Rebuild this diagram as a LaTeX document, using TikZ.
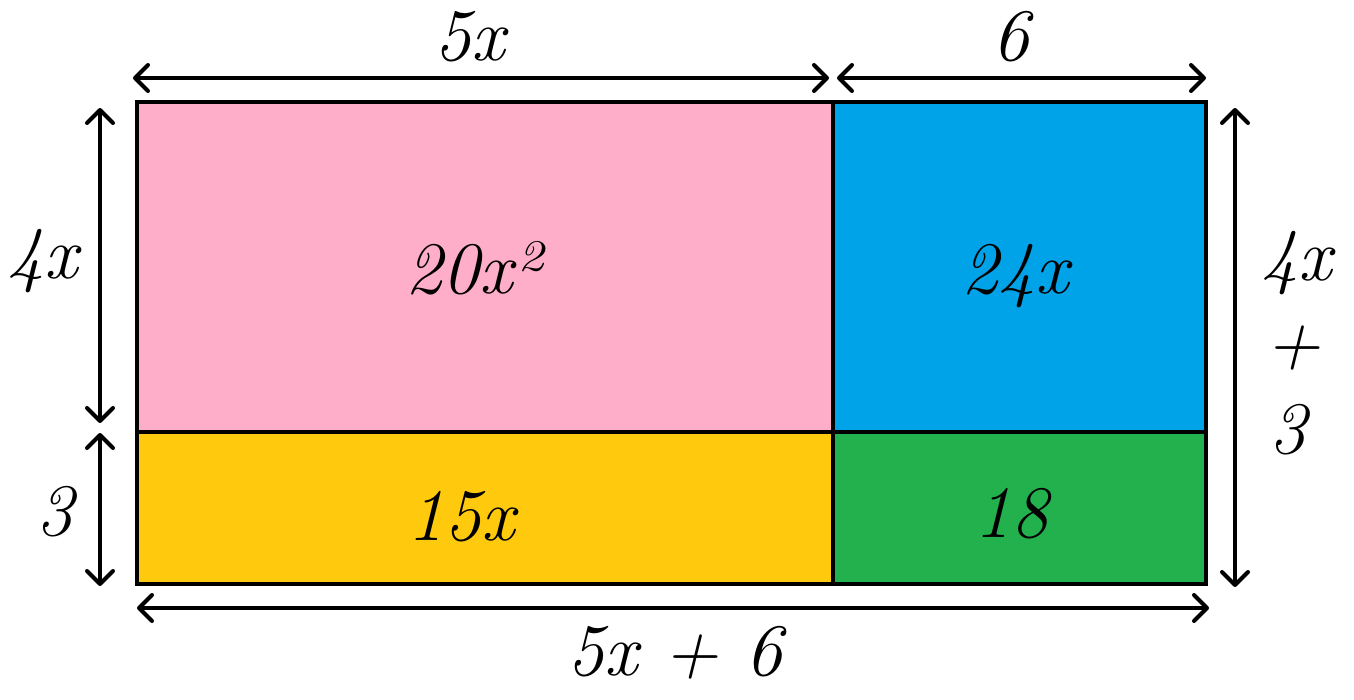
\documentclass[tikz,border=0pt]{standalone}
\usepackage{fontspec}
\usetikzlibrary{arrows.meta}
\definecolor{cpink}{HTML}{FFAEC9}
\definecolor{cblue}{HTML}{00A2E8}
\definecolor{cyellow}{HTML}{FFC90E}
\definecolor{cgreen}{HTML}{22B14C}
\tikzset{
  lbl/.style={anchor=base,inner sep=0pt,font=\fontsize{74}{88}\selectfont\itshape},
  cell/.style={draw=black,line width=4pt},
  dim/.style={line width=4pt,{Straight Barb[length=13pt,width=26pt,line width=4pt,round]}-{Straight Barb[length=13pt,width=26pt,line width=4pt,round]}}
}
\begin{document}
\begin{tikzpicture}[x=1pt,y=-1pt]
\useasboundingbox (0,0) rectangle (1354,699);
% corners
\coordinate (tl) at (137,102);
\coordinate (tm) at (833,102);
\coordinate (tr) at (1206,102);
\coordinate (ml) at (137,432);
\coordinate (mm) at (833,432);
\coordinate (mr) at (1206,432);
\coordinate (bl) at (137,584);
\coordinate (bm) at (833,584);
\coordinate (br) at (1206,584);
% cells
\fill[cpink] (tl) rectangle (mm);
\fill[cblue] (tm) rectangle (mr);
\fill[cyellow] (ml) rectangle (bm);
\fill[cgreen] (mm) rectangle (br);
\draw[cell] (tl) rectangle (br);
\draw[cell] (tm) -- (bm);
\draw[cell] (ml) -- (mr);
% dimension arrow ends
\coordinate (a1) at (133,78);
\coordinate (a2) at (829,78);
\coordinate (a3) at (837,78);
\coordinate (a4) at (1206,78);
\coordinate (l1) at (100,108);
\coordinate (l2) at (100,423);
\coordinate (l3) at (100,433);
\coordinate (l4) at (100,586);
\coordinate (r1) at (1235,108);
\coordinate (r2) at (1235,587);
\coordinate (b1) at (137,608);
\coordinate (b2) at (1209,608);
\draw[dim] (a1) -- (a2);
\draw[dim] (a3) -- (a4);
\draw[dim] (l1) -- (l2);
\draw[dim] (l3) -- (l4);
\draw[dim] (r1) -- (r2);
\draw[dim] (b1) -- (b2);
% labels
\node[lbl] (t5x) at (470,60) {5x};
\node[lbl] (t6) at (1011,60) {6};
\node[lbl] (l4x) at (43,278) {4x};
\node[lbl] (l3) at (55,535) {3};
\node[lbl] (c20) at (473,293) {20x²};
\node[lbl] (c24) at (1015,293) {24x};
\node[lbl] (c15) at (461,540) {15x};
\node[lbl] (c18) at (1011,537) {18};
\node[lbl] (r4x) at (1297,280) {4x};
\node[lbl,anchor=center] (rplus) at (1293,348) {+};
\node[lbl] (r3) at (1288,453) {3};
\node[lbl] (bsum) at (675,675) {5x + 6};
\end{tikzpicture}
\end{document}
